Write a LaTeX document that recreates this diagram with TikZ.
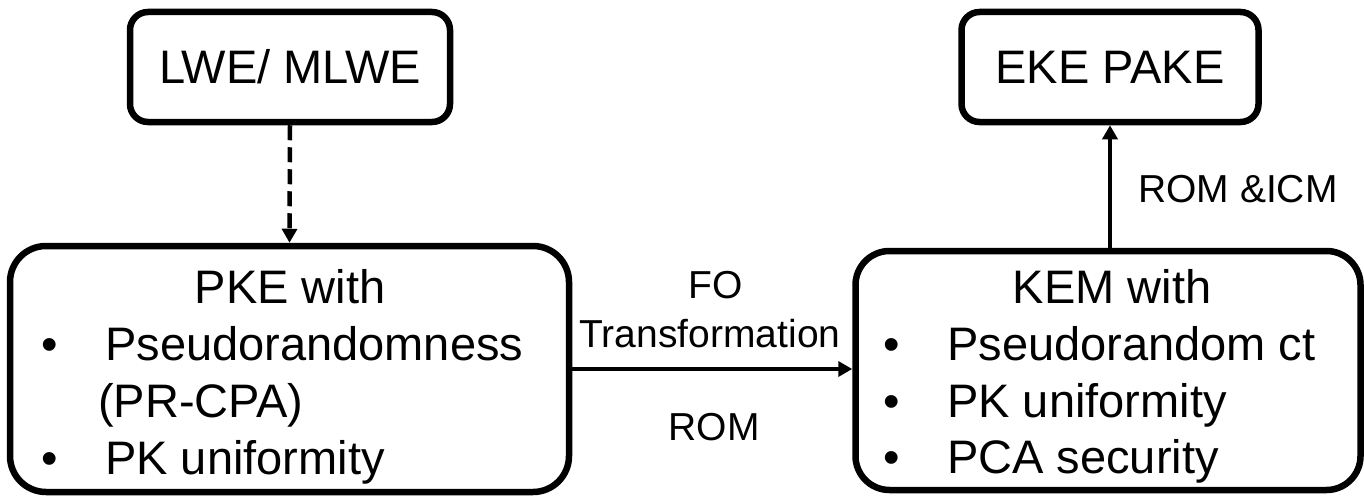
\documentclass[tikz,border=0pt]{standalone}
\usepackage{fontspec}
\setmainfont{Liberation Sans}
\usetikzlibrary{arrows.meta}
\begin{document}
\begin{tikzpicture}[x=1pt,y=-1pt,
  box/.style={draw=black, line width=6.5pt, fill=white, inner sep=0pt},
  arr/.style={draw=black, line width=4.5pt, -{Triangle[length=14pt,width=15pt]}},
  dasharr/.style={arr, dash pattern=on 15pt off 7pt},
  big/.style={font=\fontsize{47}{56}\selectfont, inner sep=0pt},
  lbl/.style={font=\fontsize{39}{47}\selectfont, inner sep=0pt}]
\useasboundingbox (0,0) rectangle (1364,495);
% boxes
\node[box, rounded corners=18pt, minimum width=320pt, minimum height=110pt] (lwe) at (290,67) {};
\node[box, rounded corners=36pt, minimum width=559pt, minimum height=246pt] (pke) at (289.5,369) {};
\node[box, rounded corners=34pt, minimum width=505pt, minimum height=239pt] (kem) at (1108,370.5) {};
\node[box, rounded corners=18pt, minimum width=297pt, minimum height=110pt] (eke) at (1110,67) {};
% box texts
\node[big, anchor=base] (lwet) at (290,83) {LWE/ MLWE};
\node[big, anchor=base] (eket) at (1110,83) {EKE PAKE};
\node[big, anchor=base] (pket) at (290,303) {PKE with};
\node[big, anchor=base] (pb1) at (50,360) {•};
\node[big, anchor=base west] (pt1) at (105,360) {Pseudorandomness};
\node[big, anchor=base west] (pt2) at (98,417) {(PR-CPA)};
\node[big, anchor=base] (pb2) at (50,474) {•};
\node[big, anchor=base west] (pt3) at (105,474) {PK uniformity};
\node[big, anchor=base] (kemt) at (1112,303) {KEM with};
\node[big, anchor=base] (kb1) at (892,360) {•};
\node[big, anchor=base west] (kt1) at (947,360) {Pseudorandom ct};
\node[big, anchor=base] (kb2) at (892,417) {•};
\node[big, anchor=base west] (kt2) at (947,417) {PK uniformity};
\node[big, anchor=base] (kb3) at (892,473) {•};
\node[big, anchor=base west] (kt3) at (947,473) {PCA security};
% connectors
\draw[dasharr] (lwe.south) -- (pke.north);
\draw[arr] (pke.east) -- (pke.east -| kem.west);
\draw[arr] (kem.north -| eke.south) -- (eke.south);
% labels
\node[lbl, anchor=base] (fo) at (716,298) {FO};
\node[lbl, anchor=base] (tr) at (710,347) {Transformation};
\node[lbl, anchor=base] (rom) at (714,440) {ROM};
\node[lbl, anchor=base west] (romicm) at (1138,202) {ROM \&ICM};
\end{tikzpicture}
\end{document}
